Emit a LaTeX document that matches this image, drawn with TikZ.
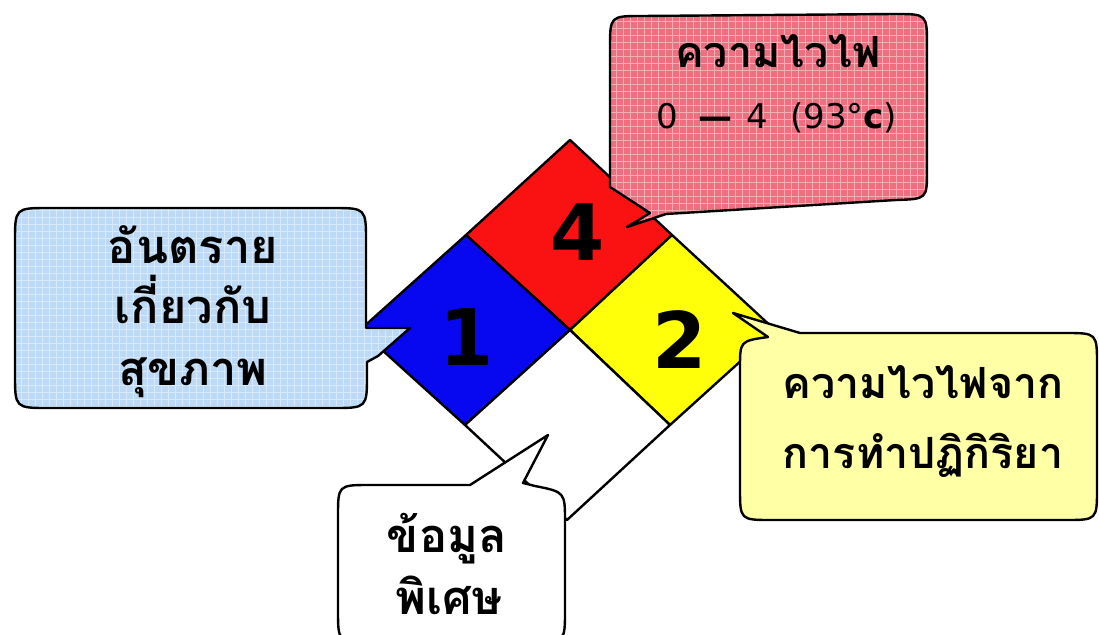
\documentclass[tikz,border=0pt]{standalone}
\usepackage{fontspec}
\newfontfamily\thaifont[Script=Thai]{Loma}
\newfontfamily\numfont{DejaVu Sans}
\definecolor{hzred}{RGB}{250,18,18}
\definecolor{hzblue}{RGB}{8,8,240}
\definecolor{hzyellow}{RGB}{255,255,10}
\definecolor{cpink}{RGB}{238,112,128}
\definecolor{clblue}{RGB}{188,218,246}
\definecolor{clyellow}{RGB}{255,255,165}
\newcommand\redshape{(610,187) -- (650,213) -- (627,227) -- (666,214) -- (896,200) .. controls (927,199) .. (927,170) -- (927,46) .. controls (927,14) .. (895,14) -- (642,16) .. controls (610,16) .. (610,48) -- cycle}
\newcommand\blueshape{(15,242) .. controls (15,208) .. (49,208) -- (332,208) .. controls (366,208) .. (366,242) -- (366,328) -- (410,328) -- (378,356) -- (367,362) -- (367,374) .. controls (367,408) .. (333,408) -- (49,408) .. controls (15,408) .. (15,374) -- cycle}
\newcommand\yellowshape{(800,333) -- (1065,333) .. controls (1097,333) .. (1097,365) -- (1097,488) .. controls (1097,520) .. (1065,520) -- (772,520) .. controls (740,520) .. (740,488) -- (740,368) .. controls (740,341) .. (768,337) -- (733,313) -- cycle}
\newcommand\whiteshape{(338,517) .. controls (338,485) .. (370,485) -- (470,485) -- (548,435) -- (523,483) -- (535,486) .. controls (565,492) .. (565,522) -- (565,610) .. controls (565,642) .. (533,642) -- (370,642) .. controls (338,642) .. (338,610) -- cycle}
\begin{document}
\begin{tikzpicture}[x=1pt,y=-1pt,
  outline/.style={draw=black, line width=2.4pt, line join=round},
  gridline/.style={white, opacity=0.42, line width=0.8pt},
  thai/.style={font=\thaifont\bfseries\fontsize{43}{50}\selectfont, inner sep=0pt, anchor=base},
  thaibig/.style={font=\thaifont\bfseries\fontsize{47}{54}\selectfont, inner sep=0pt, anchor=base},
  latin/.style={font=\numfont\fontsize{34}{40}\selectfont, inner sep=0pt, anchor=base},
  digit/.style={font=\numfont\bfseries\fontsize{78}{90}\selectfont, inner sep=0pt, anchor=base}]
\clip (0,0) rectangle (1099,634);
\fill[white] (0,0) rectangle (1099,634);
% diamond vertices
\coordinate (T) at (570,140);
\coordinate (L) at (360,330);
\coordinate (R) at (775,330);
\coordinate (B) at (567,520);
\coordinate (C) at (570,330);
\coordinate (TL) at (466,235);
\coordinate (TR) at (672,235);
\coordinate (BL) at (465,425);
\coordinate (BR) at (670,425);
\path[outline, fill=hzred] (T) -- (TR) -- (C) -- (TL) -- cycle;
\path[outline, fill=hzblue] (TL) -- (C) -- (BL) -- (L) -- cycle;
\path[outline, fill=hzyellow] (TR) -- (R) -- (BR) -- (C) -- cycle;
\path[outline, fill=white] (C) -- (BR) -- (B) -- (BL) -- cycle;
\node[digit] (n4) at (578,260) {4};
\node[digit] (n1) at (467,365) {1};
\node[digit] (n2) at (680,368) {2};
% red callout
\fill[cpink] \redshape;
\begin{scope}
\clip \redshape;
\draw[gridline, step=7pt] (600,0) grid (940,240);
\end{scope}
\draw[outline] \redshape;
% blue callout
\fill[clblue] \blueshape;
\begin{scope}
\clip \blueshape;
\draw[gridline, step=7pt] (0,200) grid (420,420);
\end{scope}
\draw[outline] \blueshape;
% yellow callout
\path[outline, fill=clyellow] \yellowshape;
% white callout
\path[outline, fill=white] \whiteshape;
% texts
\node[thai] (fa) at (778,67) {ความไวไฟ};
\node[latin] (fb) at (777,128) {0\hspace{20pt}{\bfseries —}\hspace{14pt}4\hspace{22pt}(93°{\bfseries c})};
\node[thaibig] (ha) at (193,263) {อันตราย};
\node[thaibig] (hb) at (193,323) {เกี่ยวกับ};
\node[thaibig] (hc) at (193,385) {สุขภาพ};
\node[thai] (ra) at (923,398) {ความไวไฟจาก};
\node[thai] (rb) at (923,468) {การทำปฏิกิริยา};
\node[thaibig] (sa) at (447,552) {ข้อมูล};
\node[thaibig, text depth=0pt] (sb) at (449,614) {พิเศษ};
\end{tikzpicture}
\end{document}
